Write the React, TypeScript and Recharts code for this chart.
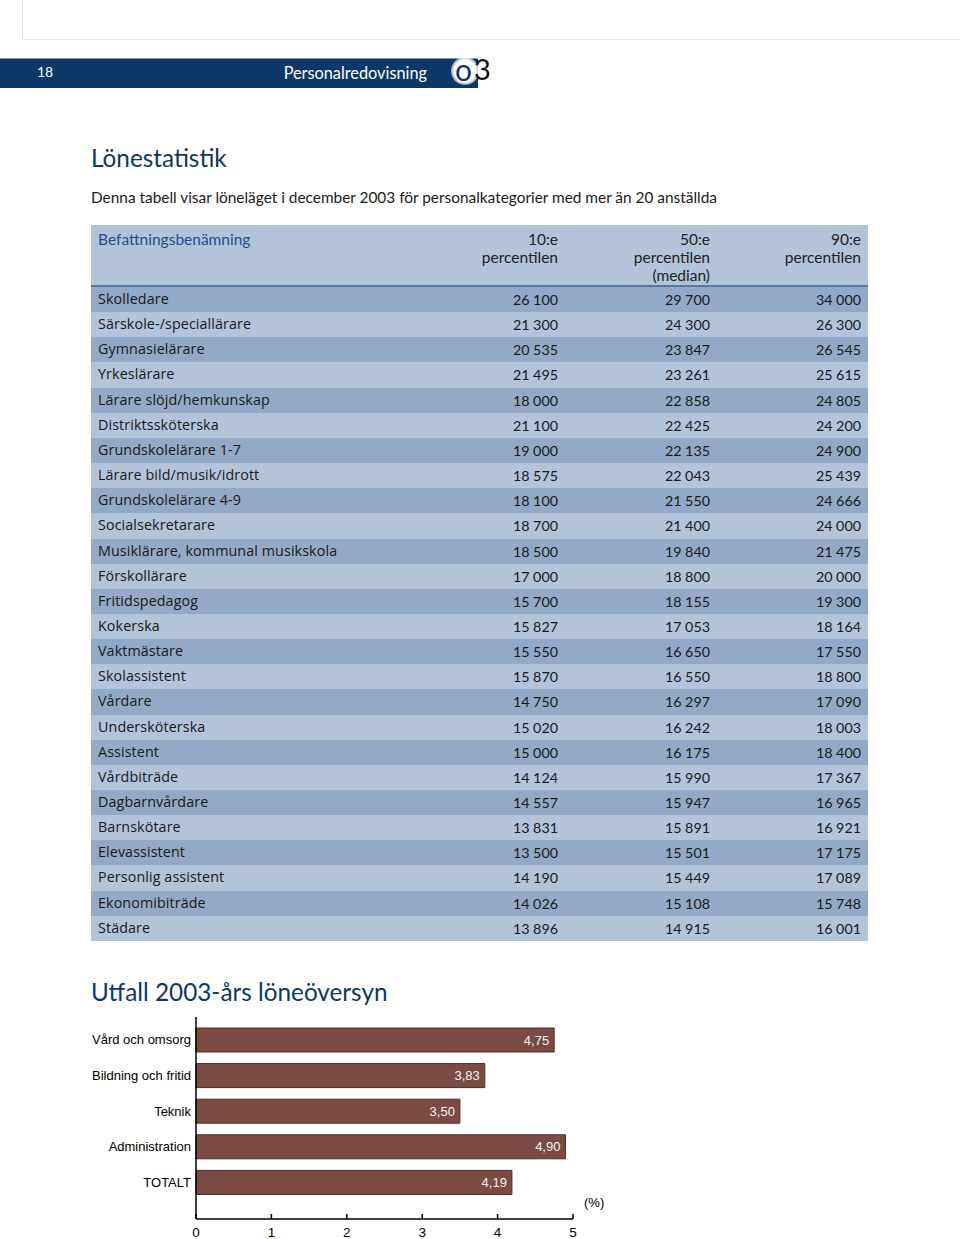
import React from "react";
import { BarChart, Bar, XAxis, YAxis, LabelList } from "recharts";

const jobTitles = [
  "Skolledare",
  "Särskole-/speciallärare",
  "Gymnasielärare",
  "Yrkeslärare",
  "Lärare slöjd/hemkunskap",
  "Distriktssköterska",
  "Grundskolelärare 1-7",
  "Lärare bild/musik/idrott",
  "Grundskolelärare 4-9",
  "Socialsekretarare",
  "Musiklärare, kommunal musikskola",
  "Förskollärare",
  "Fritidspedagog",
  "Kokerska",
  "Vaktmästare",
  "Skolassistent",
  "Vårdare",
  "Undersköterska",
  "Assistent",
  "Vårdbiträde",
  "Dagbarnvårdare",
  "Barnskötare",
  "Elevassistent",
  "Personlig assistent",
  "Ekonomibiträde",
  "Städare",
];
const p10 = [26100, 21300, 20535, 21495, 18000, 21100, 19000, 18575, 18100, 18700, 18500, 17000, 15700, 15827, 15550, 15870, 14750, 15020, 15000, 14124, 14557, 13831, 13500, 14190, 14026, 13896];
const p50 = [29700, 24300, 23847, 23261, 22858, 22425, 22135, 22043, 21550, 21400, 19840, 18800, 18155, 17053, 16650, 16550, 16297, 16242, 16175, 15990, 15947, 15891, 15501, 15449, 15108, 14915];
const p90 = [34000, 26300, 26545, 25615, 24805, 24200, 24900, 25439, 24666, 24000, 21475, 20000, 19300, 18164, 17550, 18800, 17090, 18003, 18400, 17367, 16965, 16921, 17175, 17089, 15748, 16001];
const tableHeaders = ["Befattningsbenämning", "10:e\npercentilen", "50:e\npercentilen\n(median)", "90:e\npercentilen"];

const reviewCategories = ["Vård och omsorg", "Bildning och fritid", "Teknik", "Administration", "TOTALT"];
const reviewValues = [4.75, 3.83, 3.5, 4.9, 4.19];
const xTicks = [0, 1, 2, 3, 4, 5];

const chartData = reviewCategories.map((name, i) => ({ name, value: reviewValues[i] }));

const fmt = (n: number) => {
  const s = String(n);
  return s.length > 3 ? s.slice(0, s.length - 3) + " " + s.slice(s.length - 3) : s;
};

const LATO = "Lato, 'Open Sans', sans-serif";
const ARIAL = "'Liberation Sans', Arial, sans-serif";
const NAVY = "#0b3866";
const DARK_ROW = "#93a9c7";
const LIGHT_ROW = "#b3c3da";

const ROW_TOP = 287;
const ROW_H = 25.15;
const colRights = [558, 710, 861];

export default function App() {
  return (
    <div style={{ position: "absolute", left: 0, top: 0, width: 960, height: 1239, background: "#fff", overflow: "hidden", fontFamily: LATO }}>
      {/* top frame */}
      <div style={{ position: "absolute", left: 22, top: 0, width: 1, height: 39, background: "#e2e2e2" }} />
      <div style={{ position: "absolute", left: 22, top: 39, width: 938, height: 1, background: "#e2e2e2" }} />

      {/* header band */}
      <div style={{ position: "absolute", left: 0, top: 58, width: 478, height: 30, background: NAVY, borderTop: "1px solid #7d9abb", boxSizing: "border-box" }} />
      <div style={{ position: "absolute", left: 37, top: 62, height: 20, lineHeight: "20px", fontSize: 14, color: "#fff" }}>18</div>
      <div style={{ position: "absolute", left: 200, width: 227, textAlign: "right", top: 63, height: 20, lineHeight: "20px", fontSize: 16.3, color: "#fff" }}>Personalredovisning</div>
      <div style={{ position: "absolute", left: 451, top: 57, width: 28, height: 28, borderRadius: "50%", background: "radial-gradient(circle, #fff 55%, rgba(255,255,255,0.4) 75%, rgba(255,255,255,0) 100%)" }} />
      <div style={{ position: "absolute", left: 455, top: 52, height: 34, lineHeight: "34px", fontSize: 30, color: NAVY }}>o</div>
      <div style={{ position: "absolute", left: 474, top: 52, height: 34, lineHeight: "34px", fontSize: 29, color: "#111" }}>3</div>

      {/* title */}
      <div style={{ position: "absolute", left: 91, top: 143, height: 30, lineHeight: "30px", fontSize: 24.3, color: NAVY }}>Lönestatistik</div>
      <div style={{ position: "absolute", left: 91, top: 187, height: 20, lineHeight: "20px", fontSize: 15.4, color: "#1a1a1a" }}>
        Denna tabell visar löneläget i december 2003 för personalkategorier med mer än 20 anställda
      </div>

      {/* table */}
      <div style={{ position: "absolute", left: 91, top: 225, width: 777, height: 62, background: LIGHT_ROW }} />
      <div style={{ position: "absolute", left: 91, top: 285, width: 777, height: 2, background: "#5a77a3" }} />
      <div style={{ position: "absolute", left: 98, top: 230, lineHeight: "18px", fontSize: 15.5, color: "#1d4f8c" }}>{tableHeaders[0]}</div>
      {tableHeaders.slice(1).map((h, k) => (
        <div key={h} style={{ position: "absolute", left: colRights[k] - 140, width: 140, textAlign: "right", top: 230, lineHeight: "18px", fontSize: 15.5, color: "#222", whiteSpace: "pre" }}>
          {h}
        </div>
      ))}
      {jobTitles.map((t, i) => {
        const top = ROW_TOP + i * ROW_H;
        const vals = [p10[i], p50[i], p90[i]];
        return (
          <React.Fragment key={t}>
            <div style={{ position: "absolute", left: 91, top, width: 777, height: ROW_H + 0.5, background: i % 2 === 0 ? DARK_ROW : LIGHT_ROW }} />
            <div style={{ position: "absolute", left: 98, top: top + 1, height: 22, lineHeight: "22px", fontSize: 14.3, color: "#1a1a1a", fontFamily: "'Open Sans', sans-serif", letterSpacing: 0.1 }}>{t}</div>
            {vals.map((v, k) => (
              <div key={k} style={{ position: "absolute", left: colRights[k] - 120, width: 120, textAlign: "right", top: top + 2, height: 22, lineHeight: "22px", fontSize: 14.3, color: "#1a1a1a" }}>
                {fmt(v)}
              </div>
            ))}
          </React.Fragment>
        );
      })}

      {/* chart title */}
      <div style={{ position: "absolute", left: 91, top: 977, height: 30, lineHeight: "30px", fontSize: 24.3, color: NAVY }}>Utfall 2003-års löneöversyn</div>

      {/* chart */}
      <div style={{ position: "absolute", left: 0, top: 1000 }}>
        <BarChart width={640} height={239} data={chartData} layout="vertical" margin={{ top: 17, right: 67, bottom: 0, left: 0 }} barSize={24}>
          <XAxis
            type="number"
            domain={[0, 5]}
            ticks={xTicks}
            interval={0}
            height={20}
            axisLine={{ stroke: "#000", strokeWidth: 1.5 }}
            tickLine={{ stroke: "#000", strokeWidth: 1.5 }}
            tickSize={-5}
            tickMargin={13}
            tick={{ fill: "#000", fontSize: 13.5, fontFamily: ARIAL }}
          />
          <YAxis
            type="category"
            dataKey="name"
            width={196}
            interval={0}
            padding={{ top: 5, bottom: 19 }}
            axisLine={{ stroke: "#000", strokeWidth: 1.5 }}
            tickLine={false}
            tickSize={0}
            tickMargin={5}
            tick={{ fill: "#000", fontSize: 13, fontFamily: ARIAL }}
          />
          <Bar dataKey="value" fill="#7b4b43" stroke="#4e2c27" strokeWidth={1} isAnimationActive={false}>
            <LabelList
              dataKey="value"
              position="insideRight"
              fill="#f4f4f4"
              fontSize={13}
              fontFamily={ARIAL}
              formatter={(v: any) => Number(v).toFixed(2).replace(".", ",")}
            />
          </Bar>
        </BarChart>
      </div>
      <div style={{ position: "absolute", left: 584, top: 1195, height: 16, lineHeight: "16px", fontSize: 13, fontFamily: ARIAL, color: "#000" }}>(%)</div>
    </div>
  );
}
